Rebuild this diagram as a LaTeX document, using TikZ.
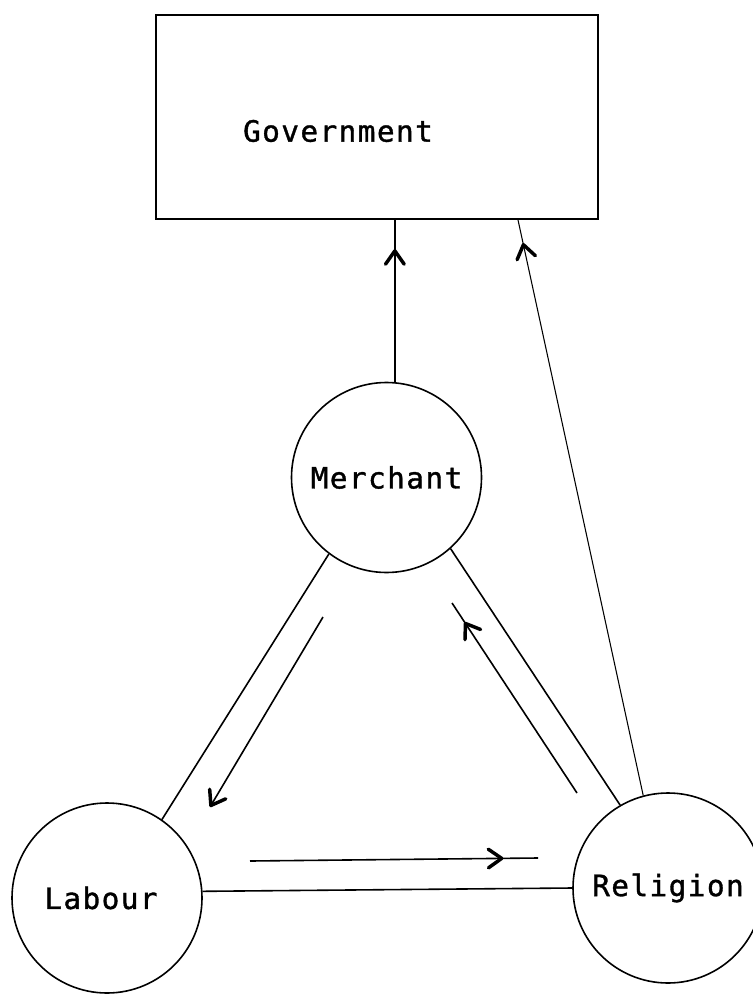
\documentclass[tikz,border=0pt]{standalone}
\usepackage{fontspec}
\newfontfamily\typefont[LetterSpace=5,FakeBold=1.2]{DejaVu Sans Mono}
\usepackage{tikz}
\usetikzlibrary{arrows.meta}
\usetikzlibrary{decorations.markings}

\begin{document}
\begin{tikzpicture}[x=0.75pt,y=0.75pt,yscale=-1,xscale=1,
    actor/.style={draw, circle, line width=1.2pt, minimum size=142.5pt, inner sep=0pt, font=\typefont\fontsize{22}{26}\selectfont},
    govbox/.style={draw, rectangle, line width=1.4pt, minimum width=331.5pt, minimum height=153pt, inner sep=0pt},
    lbl/.style={inner sep=0.75pt, font=\typefont\fontsize{22}{26}\selectfont},
    link/.style={line width=1.2pt},
    thinlink/.style={line width=0.8pt},
    barb/.style={postaction={decorate}, decoration={markings, mark=at position #1 with {\arrow{Straight Barb[length=10pt,width=14pt,line width=2.6pt,round]}}}}
]
            \useasboundingbox (0,0) rectangle (752,994);

            %Shape: Rectangle [id:gov]
            \node [govbox] (gov) at (377,117) {};
            % Text Node
            \node [lbl] (govtext) at (338,131) {Government};

            %Shape: Circle [id:merchant]
            \node [actor] (merchant) at (386.5,477.5) {Merchant};
            %Shape: Circle [id:labour]
            \node [actor] (labour) at (107,898) {Labour\hspace*{9pt}};
            %Shape: Circle [id:religion]
            \node [actor] (religion) at (668,888) {Religion};

            % Merchant to Government
            \draw [link, barb=0.82] (merchant.85) -- (merchant.85 |- gov.south);
            % Religion to Government
            \draw [thinlink, barb=0.96] (religion.105) -- ([xshift=105.75pt]gov.south);

            %Straight Lines: triangle
            \draw [link] (merchant.233) -- (labour.55);
            \draw [link] (merchant.312) -- (religion.120);
            \draw [link] (labour.4) -- (religion.180);

            % flow arrows inside the triangle
            \coordinate (lftA) at (323,617);
            \coordinate (lftB) at (210,807);
            \draw [link, -{Straight Barb[length=10pt,width=14pt,line width=2.6pt,round]}] (lftA) -- (lftB);
            \coordinate (rgtA) at (577,793);
            \coordinate (rgtB) at (452,603);
            \draw [link, barb=0.9] (rgtA) -- (rgtB);
            \coordinate (botA) at (250,861);
            \coordinate (botB) at (538,858);
            \draw [link, barb=0.88] (botA) -- (botB);

\end{tikzpicture}
\end{document}
